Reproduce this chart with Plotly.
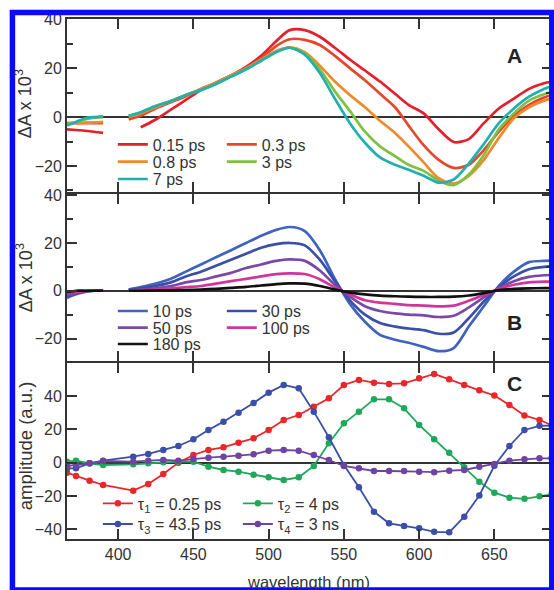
import plotly.graph_objects as go

# ---------------- data ----------------
# Panels A and B share a wavelength grid (gap 391-407 nm)
WL_AB = [366, 372, 378, 384, 390, None, 407, 415, 425, 435, 445, 455, 465, 475, 485, 495, 505,
         514, 524, 534, 544, 554, 564, 574, 584, 593, 603, 613, 623, 633, 643, 653, 663, 673, 683, 688]

A_015 = [-5, -5.3, -5.6, -6, -6.5, None, None, -4.2, -1, 3, 7, 11, 14, 17, 20.5, 25, 31,
         35.5, 35.5, 32.8, 28.3, 23.5, 19, 14.5, 9.5, 5, 1.5, -5, -10.2, -9, -2.5, 3.5, 7.5, 11.5, 13.8, 14.4]
A_03 = [-2.5, -2.5, -2.5, -2.5, -2.5, None, -1, 0.5, 3.5, 6, 8.5, 11.5, 14, 17, 20, 24, 29,
        31.8, 31.5, 29.4, 25, 20, 15, 9.5, 4, -3.5, -11.5, -17.5, -20.8, -19.5, -13.5, -6, 0.5, 5, 8, 9]
A_08 = [-2.5, -2.5, -2.3, -2.2, -2, None, 0, 1.5, 4, 6.5, 9, 11.5, 14, 17, 20, 23.5, 27,
        28.5, 26.5, 21, 14.5, 9, 4, -1.5, -6.5, -12, -18.5, -25, -27.2, -24, -17.5, -8.5, -0.5, 4, 6.7, 7.5]
A_3 = [-3, -2, -1, -0.3, 0, None, 0.5, 2, 4.5, 6.5, 9, 11, 13.5, 16.5, 19.5, 23, 26.5,
       28.3, 26, 19.5, 10.5, 2.5, -6, -12, -16, -19.5, -22, -26, -27.8, -23.5, -15.5, -5, 1.5, 6.7, 9.3, 10.3]
A_7 = [-3.5, -2, -0.5, 0, 0.3, None, 0.5, 2, 4.5, 6.5, 9, 11, 13.5, 16.5, 19.5, 23, 26.5,
       28.3, 25.5, 18, 7.5, -2.5, -10.5, -16.5, -19.5, -21.5, -24, -26.8, -25.5, -19, -11, -2.5, 3.5, 8.3, 11.5, 12.6]

B_10 = [-3, -1.5, -0.5, 0, 0, None, 0.5, 1.5, 3, 5, 8, 11, 14, 17, 20, 23, 25.5,
        26.7, 25, 17, 5, -5.5, -13, -18.5, -20.5, -21.8, -23.5, -25.3, -24, -15, -6.5, 2, 8, 12, 12.5, 12.6]
B_30 = [-2.5, -1.2, -0.3, 0, 0, None, 0.3, 1, 2, 3.5, 6, 8, 10.5, 13, 15.5, 18, 19.5,
        20, 19, 13, 4, -4, -10, -13.5, -15, -15.8, -16.5, -18, -17.5, -11.5, -4.5, 1.5, 6, 9, 10, 10.3]
B_50 = [-2, -1, -0.3, 0, 0, None, 0.2, 0.5, 1, 2, 3.5, 4.5, 6, 7.5, 9.5, 11, 12.5,
        13.1, 12.5, 8.5, 2.5, -2.5, -6.5, -8.5, -9.5, -10, -10.3, -11, -10.5, -7, -2.8, 1, 4, 5.8, 6.5, 6.6]
B_100 = [-1, -0.5, 0, 0, 0, None, 0, 0.2, 0.5, 1, 1.5, 2, 3, 4, 5, 6, 7,
         7.3, 7, 4.8, 1.3, -1.5, -4, -5, -5.5, -6, -6.2, -6.5, -6.2, -4.2, -1.8, 0.8, 2.5, 3.5, 3.8, 3.8]
B_180 = [-0.5, 0, 0, 0, 0, None, 0, 0, 0.1, 0.2, 0.3, 0.5, 0.8, 1.2, 1.6, 2.2, 2.8,
         3.1, 3, 2, 0.5, -0.8, -1.5, -2, -2.3, -2.5, -2.6, -2.6, -2.5, -2, -1, 0.3, 0.8, 1, 1.1, 1.1]

# Panel C: decay-associated amplitudes
WL_C = [366, 372, 381, 390, 410, 420, 430, 440, 450, 460, 470, 480, 490, 500, 510, 520, 530,
        540, 550, 560, 570, 580, 590, 600, 610, 620, 630, 640, 650, 660, 670, 680, 688]
C_TAU1 = [-6, -8, -10.8, -13.4, -16.8, -12.8, -6.8, 0, 4.6, 7.6, 9.2, 12, 14.6, 19.6, 25.6, 28.6, 33.6,
          38.6, 46.6, 49.6, 48, 47.2, 47.6, 50.6, 53.2, 50, 46.6, 43.4, 40.3, 34.6, 28.3, 25.6, 22.6]
C_TAU2 = [0.6, 1.2, -0.4, -1.4, -1, -0.4, 0.2, 0.6, 0.6, -2.4, -4.4, -5.4, -7.2, -8.8, -10.4, -8.8, -2,
          11.6, 23.6, 30.6, 38, 38, 32.6, 22.6, 14, 6, -2.8, -11.4, -18, -21, -21.7, -20.2, -19]
C_TAU3 = [-3.4, -3.4, -0.4, 1.2, 3.6, 5.2, 7.6, 10, 14, 19.6, 24.6, 30, 35.8, 42, 46.6, 44.6, 30.6,
          15.2, -1.4, -14.8, -29.4, -36.4, -38, -39.4, -41.5, -41.8, -32.4, -19.7, -1.9, 10, 19.6, 22.1, 22.3]
C_TAU4 = [-2, -1.4, -0.4, 1, 0.6, 1.2, 1.6, 1.2, 2.2, 3, 3.6, 4.2, 5, 7.2, 7.6, 7.2, 4.6,
          1.6, -2, -3.4, -5, -5, -5, -5.4, -5.7, -4.8, -4.4, -2.4, -0.8, 1.2, 2, 2.6, 2.6]

NAMES_A = ["0.15 ps", "0.3 ps", "0.8 ps", "3 ps", "7 ps"]
NAMES_B = ["10 ps", "30 ps", "50 ps", "100 ps", "180 ps"]
NAMES_C = ["τ<sub>1</sub> = 0.25 ps", "τ<sub>2</sub> = 4 ps", "τ<sub>3</sub> = 43.5 ps", "τ<sub>4</sub> = 3 ns"]
X_TICKS = [400, 450, 500, 550, 600, 650]
Y_TICKS_AB = [-20, 0, 20, 40]
Y_MINOR_AB = [-30, -10, 10, 30]
Y_TICKS_C = [-40, -20, 0, 20, 40]

# ---------------- style ----------------
COL_A = ["#e4202c", "#e4472c", "#ef8a2c", "#7fc043", "#21afb2"]
COL_B = ["#4063be", "#3a4fa6", "#7a48a6", "#d1359b", "#111111"]
COL_C = ["#e8272b", "#1fa85a", "#3b4fa8", "#6e44a0"]
FONT = "Liberation Sans, Arial, sans-serif"
INK = "#333333"

fig = go.Figure()

series_A = [A_015, A_03, A_08, A_3, A_7]
legend_A = ["legend", "legend", "legend2", "legend2", "legend3"]
for name, ys, col, lg in zip(NAMES_A, series_A, COL_A, legend_A):
    fig.add_trace(go.Scatter(x=WL_AB, y=ys, name=name, mode="lines",
                             line=dict(color=col, width=2.7, shape="spline", smoothing=0.8),
                             xaxis="x", yaxis="y", legend=lg))

series_B = [B_10, B_30, B_50, B_100, B_180]
legend_B = ["legend4", "legend4", "legend5", "legend5", "legend6"]
for name, ys, col, lg in zip(NAMES_B, series_B, COL_B, legend_B):
    fig.add_trace(go.Scatter(x=WL_AB, y=ys, name=name, mode="lines",
                             line=dict(color=col, width=2.7, shape="spline", smoothing=0.8),
                             xaxis="x2", yaxis="y2", legend=lg))

series_C = [C_TAU1, C_TAU2, C_TAU3, C_TAU4]
legend_C = ["legend7", "legend7", "legend8", "legend8"]
for name, ys, col, lg in zip(NAMES_C, series_C, COL_C, legend_C):
    fig.add_trace(go.Scatter(x=WL_C, y=ys, name=name, mode="lines+markers",
                             line=dict(color=col, width=1.8),
                             marker=dict(color=col, size=6.5),
                             xaxis="x3", yaxis="y3", legend=lg))

# ---------------- layout geometry (pixels) ----------------
W, H = 554, 590
L, R, T, B = 67, 0, 19, 51
PW, PH = W - L - R, H - T - B
XLW = 1.6  # x-axis line width


def px(xp):
    return (xp - L) / PW


def py(yp):
    return (H - B - yp) / PH


xcommon = dict(range=[366, 688.3], tickmode="array", tickvals=X_TICKS, ticks="inside", ticklen=10,
               tickwidth=1.5, tickcolor=INK, showline=True, linecolor=INK, linewidth=XLW,
               mirror="ticks", showgrid=False, zeroline=False,
               tickfont=dict(family=FONT, size=16, color=INK))
ycommon = dict(ticks="inside", ticklen=10, tickwidth=1.5, tickcolor=INK, showline=True,
               linecolor=INK, linewidth=1.8, mirror="ticks", showgrid=False,
               zeroline=True, zerolinecolor=INK, zerolinewidth=1.6,
               tickfont=dict(family=FONT, size=16, color=INK), tickmode="array")
minor_ab = dict(tickmode="array", tickvals=Y_MINOR_AB, ticks="inside", ticklen=6,
                tickwidth=1.5, tickcolor=INK, showgrid=False)

# panel edges (pixels) chosen so neighbouring frame lines coincide
AB, BC = 193, 362
dA = [py(AB - XLW / 2), 1]
dB = [py(BC - XLW / 2), py(AB + XLW / 2)]
dC = [0, py(BC + XLW / 2)]

layout = dict(
    width=W, height=H, margin=dict(l=L, r=R, t=T, b=B, pad=0),
    paper_bgcolor="white", plot_bgcolor="white",
    font=dict(family=FONT, color=INK),
    xaxis=dict(xcommon, anchor="y", showticklabels=False),
    xaxis2=dict(xcommon, anchor="y2", showticklabels=False, matches="x"),
    xaxis3=dict(xcommon, anchor="y3", showticklabels=True, matches="x"),
    yaxis=dict(ycommon, domain=dA, range=[-30.7, 40.05], tickvals=Y_TICKS_AB, minor=minor_ab),
    yaxis2=dict(ycommon, domain=dB, range=[-29.5, 40.6], tickvals=Y_TICKS_AB, minor=minor_ab),
    yaxis3=dict(ycommon, domain=dC, range=[-45.8, 59.9], tickvals=Y_TICKS_C),
    showlegend=True,
)

# legends: one horizontal legend per row
LEG_FS = 16
half = (LEG_FS * 1.3 + 3) / 2 + 5


def leg(x_left, row_center, entryw):
    return dict(orientation="h", x=px(x_left), y=py(row_center - half), xanchor="left", yanchor="top",
                bgcolor="rgba(0,0,0,0)", borderwidth=0, entrywidth=entryw, entrywidthmode="pixels",
                font=dict(family=FONT, size=LEG_FS, color=INK), itemclick=False)


layout["legend"] = leg(113, 144.3, 64)
layout["legend2"] = leg(113, 161.7, 64)
layout["legend3"] = leg(113, 179, 64)
layout["legend4"] = leg(113, 311, 64)
layout["legend5"] = leg(113, 327.7, 64)
layout["legend6"] = leg(113, 344, 64)
layout["legend7"] = leg(98, 503.3, 95)
layout["legend8"] = leg(98, 524, 95)

fig.update_layout(**layout)

ann = []
for letter, (xx, yy) in zip(["A", "B", "C"], [(516.7, 55.7), (516.7, 322.7), (516.7, 383.3)]):
    ann.append(dict(text="<b>%s</b>" % letter, x=px(xx), y=py(yy), xref="paper", yref="paper",
                    showarrow=False, xanchor="center", yanchor="middle",
                    font=dict(family=FONT, size=21, color="#222222")))
for txt, yy, xx, fs in [("ΔA x 10<sup>3</sup>", 104, 24, 18), ("ΔA x 10<sup>3</sup>", 278, 24, 18),
                        ("amplitude (a.u.)", 446, 25, 18.5)]:
    ann.append(dict(text=txt, x=px(xx), y=py(yy), xref="paper", yref="paper", showarrow=False,
                    textangle=-90, xanchor="center", yanchor="middle",
                    font=dict(family=FONT, size=fs, color=INK)))
ann.append(dict(text="wavelength (nm)", x=px(309), y=py(582.3), xref="paper", yref="paper",
                showarrow=False, xanchor="center", yanchor="middle",
                font=dict(family=FONT, size=16.5, color=INK)))
fig.update_layout(annotations=ann)

# blue frame around the figure
fig.add_shape(type="rect", xref="paper", yref="paper",
              x0=px(12.2), x1=px(553.8), y0=py(590), y1=py(12.5),
              line=dict(color="#0a0aff", width=5.5), fillcolor="rgba(0,0,0,0)", layer="above")

fig.write_html("out.html", config={"displayModeBar": False},
               post_script="document.body.style.margin='0';document.body.style.padding='0';")
